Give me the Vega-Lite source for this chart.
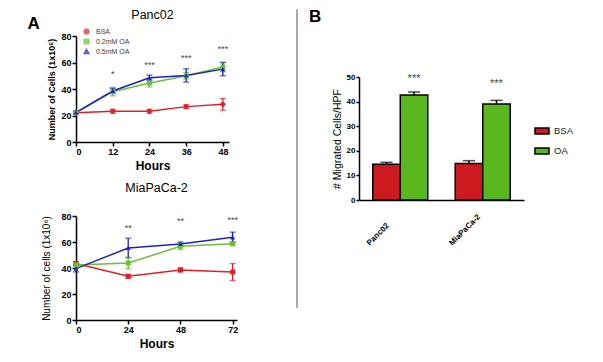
{
  "$schema": "https://vega.github.io/schema/vega-lite/v6.json",
  "padding": {"left": 27, "top": 8, "right": 5, "bottom": 5},
  "background": "white",
  "resolve": {"scale": {"color": "independent", "shape": "independent"}, "legend": {"color": "independent", "shape": "independent"}},
  "config": {
    "view": {"stroke": null},
    "font": "Liberation Sans",
    "axis": {"grid": false, "labelOverlap": false, "domainColor": "black", "tickColor": "black", "domainWidth": 1.5, "tickWidth": 1.5, "tickSize": 4, "labelColor": "black", "titleColor": "black", "labelFontWeight": "bold", "labelFontSize": 9, "labelPadding": 1, "labelFont": "Liberation Sans", "titleFont": "Liberation Sans"},
    "title": {"font": "Liberation Sans", "color": "black"}
  },
  "datasets": {
    "panc": [
      {"series": "BSA", "hours": 0, "mean": 22, "err": 1},
      {"series": "BSA", "hours": 12, "mean": 23.2, "err": 1.5},
      {"series": "BSA", "hours": 24, "mean": 23.2, "err": 1.5},
      {"series": "BSA", "hours": 36, "mean": 26.7, "err": 1.5},
      {"series": "BSA", "hours": 48, "mean": 28.4, "err": 4.4},
      {"series": "0.2mM OA", "hours": 0, "mean": 22, "err": 1},
      {"series": "0.2mM OA", "hours": 12, "mean": 38, "err": 3.2},
      {"series": "0.2mM OA", "hours": 24, "mean": 44.5, "err": 3},
      {"series": "0.2mM OA", "hours": 36, "mean": 50, "err": 2.5},
      {"series": "0.2mM OA", "hours": 48, "mean": 56.6, "err": 3.5},
      {"series": "0.5mM OA", "hours": 0, "mean": 22.3, "err": 1.3},
      {"series": "0.5mM OA", "hours": 12, "mean": 38.5, "err": 2},
      {"series": "0.5mM OA", "hours": 24, "mean": 48.5, "err": 2},
      {"series": "0.5mM OA", "hours": 36, "mean": 50.2, "err": 5},
      {"series": "0.5mM OA", "hours": 48, "mean": 55, "err": 5}
    ],
    "mia": [
      {"series": "BSA", "hours": 0, "mean": 43.5, "err": 1.5},
      {"series": "BSA", "hours": 24, "mean": 33.6, "err": 1.5},
      {"series": "BSA", "hours": 48, "mean": 38.5, "err": 1.5},
      {"series": "BSA", "hours": 72, "mean": 36.9, "err": 6.5},
      {"series": "0.2mM OA", "hours": 0, "mean": 42.3, "err": 1},
      {"series": "0.2mM OA", "hours": 24, "mean": 43.8, "err": 4.5},
      {"series": "0.2mM OA", "hours": 48, "mean": 56.7, "err": 2.5},
      {"series": "0.2mM OA", "hours": 72, "mean": 58.7, "err": 1.5},
      {"series": "0.5mM OA", "hours": 0, "mean": 39.5, "err": 2.5},
      {"series": "0.5mM OA", "hours": 24, "mean": 55.4, "err": 7.5},
      {"series": "0.5mM OA", "hours": 48, "mean": 58.5, "err": 1.5},
      {"series": "0.5mM OA", "hours": 72, "mean": 63.6, "err": 4}
    ],
    "pancStars": [
      {"hours": 12, "label": "*", "mean": 53},
      {"hours": 24, "label": "***", "mean": 60},
      {"hours": 36, "label": "***", "mean": 65},
      {"hours": 48, "label": "***", "mean": 72}
    ],
    "miaStars": [
      {"hours": 24, "label": "**", "mean": 73},
      {"hours": 48, "label": "**", "mean": 77.7},
      {"hours": 72, "label": "***", "mean": 78.5}
    ],
    "bars": [
      {"cell": "Panc02", "treatment": "BSA", "mean": 14.5, "err": 0.8},
      {"cell": "Panc02", "treatment": "OA", "mean": 42.7, "err": 1.2},
      {"cell": "MiaPaCa-2", "treatment": "BSA", "mean": 14.8, "err": 1.2},
      {"cell": "MiaPaCa-2", "treatment": "OA", "mean": 39, "err": 1.5}
    ],
    "barStars": [
      {"cell": "Panc02", "treatment": "OA", "label": "***", "mean": 50.4},
      {"cell": "MiaPaCa-2", "treatment": "OA", "label": "***", "mean": 48.4}
    ],
    "divider": [{"v": 0}]
  },
  "spacing": 58,
  "hconcat": [
    {
      "title": {"text": "A", "orient": "left", "anchor": "end", "angle": 0, "align": "right", "baseline": "top", "offset": -10, "dy": 7, "fontSize": 17, "fontWeight": "bold"},
      "spacing": 10,
      "resolve": {"scale": {"color": "independent", "shape": "independent"}, "legend": {"color": "independent", "shape": "independent"}},
      "vconcat": [
        {
          "width": 153,
          "height": 106,
          "title": {"text": "Panc02", "fontSize": 12.5, "fontWeight": "normal", "offset": 7},
          "data": {"name": "panc"},
          "encoding": {
            "x": {"field": "hours", "type": "quantitative", "scale": {"domain": [0, 50], "nice": false}, "axis": {"values": [0, 12, 24, 36, 48], "title": "Hours", "titleFontSize": 12, "titleFontWeight": "bold", "titlePadding": 4}},
            "y": {"field": "mean", "type": "quantitative", "scale": {"domain": [0, 80], "nice": false}, "axis": {"values": [0, 20, 40, 60, 80], "title": "Number of Cells (1x10⁶)", "titleFontSize": 9, "titleFontWeight": "bold", "titlePadding": 4}}
          },
          "layer": [
            {
              "mark": {"type": "errorbar", "ticks": {"size": 6}, "thickness": 1.3},
              "encoding": {
                "yError": {"field": "err"},
                "color": {"field": "series", "type": "nominal", "scale": {"domain": ["BSA", "0.2mM OA", "0.5mM OA"], "range": ["#e41e26", "#66c330", "#2020c8"]}}
              }
            },
            {
              "mark": {"type": "line", "strokeWidth": 1.5},
              "encoding": {
                "color": {"field": "series", "type": "nominal"}
              }
            },
            {
              "mark": {"type": "point", "filled": true, "size": 24, "opacity": 1},
              "encoding": {
                "color": {"field": "series", "type": "nominal", "legend": {"orient": "none", "legendX": 7, "legendY": -8, "title": null, "labelFontSize": 7, "labelColor": "#444", "symbolSize": 22, "rowPadding": -1, "labelOffset": 6, "padding": 0}},
                "shape": {"field": "series", "type": "nominal", "scale": {"domain": ["BSA", "0.2mM OA", "0.5mM OA"], "range": ["circle", "square", "triangle-up"]}, "legend": {"orient": "none", "legendX": 7, "legendY": -8, "title": null, "labelFontSize": 7, "labelColor": "#444", "symbolSize": 22, "rowPadding": -1, "labelOffset": 6, "padding": 0}}
              }
            },
            {
              "data": {"name": "pancStars"},
              "mark": {"type": "text", "fontSize": 9, "color": "#444", "baseline": "middle", "dy": 2.5},
              "encoding": {
                "text": {"field": "label"}
              }
            }
          ]
        },
        {
          "width": 161,
          "height": 104,
          "title": {"text": "MiaPaCa-2", "fontSize": 12.5, "fontWeight": "normal", "offset": 18},
          "data": {"name": "mia"},
          "encoding": {
            "x": {"field": "hours", "type": "quantitative", "scale": {"domain": [0, 74], "nice": false}, "axis": {"values": [0, 24, 48, 72], "title": "Hours", "titleFontSize": 12, "titleFontWeight": "bold", "titlePadding": 4}},
            "y": {"field": "mean", "type": "quantitative", "scale": {"domain": [0, 80], "nice": false}, "axis": {"values": [0, 20, 40, 60, 80], "title": "Number of cells (1x10⁶)", "titleFontSize": 10, "titleFontWeight": "normal", "titlePadding": 9}}
          },
          "layer": [
            {
              "mark": {"type": "errorbar", "ticks": {"size": 6}, "thickness": 1.3},
              "encoding": {
                "yError": {"field": "err"},
                "color": {"field": "series", "type": "nominal", "scale": {"domain": ["BSA", "0.2mM OA", "0.5mM OA"], "range": ["#e41e26", "#66c330", "#2020c8"]}, "legend": null}
              }
            },
            {
              "mark": {"type": "line", "strokeWidth": 1.5},
              "encoding": {
                "color": {"field": "series", "type": "nominal", "legend": null}
              }
            },
            {
              "mark": {"type": "point", "filled": true, "size": 24, "opacity": 1},
              "encoding": {
                "color": {"field": "series", "type": "nominal", "legend": null},
                "shape": {"field": "series", "type": "nominal", "scale": {"domain": ["BSA", "0.2mM OA", "0.5mM OA"], "range": ["square", "square", "triangle-up"]}, "legend": null}
              }
            },
            {
              "data": {"name": "miaStars"},
              "mark": {"type": "text", "fontSize": 9, "color": "#444", "baseline": "middle", "dy": 2.5},
              "encoding": {
                "text": {"field": "label"}
              }
            }
          ]
        }
      ]
    },
    {
      "spacing": 11,
      "resolve": {"scale": {"color": "independent"}, "legend": {"color": "independent"}},
      "hconcat": [
        {
          "width": 1,
          "height": 272,
          "data": {"name": "divider"},
          "mark": {"type": "rule", "color": "#555", "strokeWidth": 1},
          "encoding": {
            "x": {"datum": 0, "type": "quantitative", "scale": {"domain": [0, 1]}, "axis": null},
            "y": {"datum": 0, "type": "quantitative", "scale": {"domain": [0, 1]}, "axis": null},
            "y2": {"datum": 1.099}
          }
        },
        {
          "width": 165,
          "height": 164,
          "title": {"text": "B", "anchor": "start", "fontSize": 17, "fontWeight": "bold", "dx": -23, "offset": 10},
          "data": {"name": "bars"},
          "encoding": {
            "x": {"field": "cell", "type": "nominal", "sort": ["Panc02", "MiaPaCa-2"], "scale": {"paddingInner": 0.333, "paddingOuter": 0.167}, "axis": {"title": null, "labelAngle": -45, "labelAlign": "left", "labelBaseline": "middle", "labelOffset": -32, "labelPadding": 44, "ticks": false, "labelFontSize": 8}},
            "xOffset": {"field": "treatment", "type": "nominal", "sort": ["BSA", "OA"], "scale": {"paddingInner": 0, "paddingOuter": 0}},
            "y": {"field": "mean", "type": "quantitative", "scale": {"domain": [0, 50], "nice": false, "range": [164, 41]}, "axis": {"values": [0, 10, 20, 30, 40, 50], "title": "# Migrated Cells/HPF", "titleFontSize": 10.5, "titleFontWeight": "normal", "labelFontSize": 8, "tickSize": 3, "titlePadding": 4}}
          },
          "layer": [
            {
              "mark": {"type": "errorbar", "color": "black", "ticks": {"size": 12}, "thickness": 1.5},
              "encoding": {
                "yError": {"field": "err"}
              }
            },
            {
              "mark": {"type": "bar", "stroke": "black", "strokeWidth": 1.5},
              "encoding": {
                "color": {"field": "treatment", "type": "nominal", "scale": {"domain": ["BSA", "OA"], "range": ["#cc1a1f", "#5ab71e"]}, "legend": {"orient": "none", "legendX": 175, "legendY": 87, "title": null, "labelFontSize": 9.5, "labelColor": "#222", "symbolType": "M-1,-0.43H1V0.43H-1Z", "symbolSize": 196, "symbolStrokeColor": "black", "symbolStrokeWidth": 1.5, "symbolOpacity": 1, "rowPadding": 5, "labelOffset": 4, "padding": 0}}
              }
            },
            {
              "data": {"name": "barStars"},
              "mark": {"type": "text", "fontSize": 11, "color": "#444", "baseline": "middle", "dy": 3},
              "encoding": {
                "text": {"field": "label"}
              }
            }
          ]
        }
      ]
    }
  ]
}
